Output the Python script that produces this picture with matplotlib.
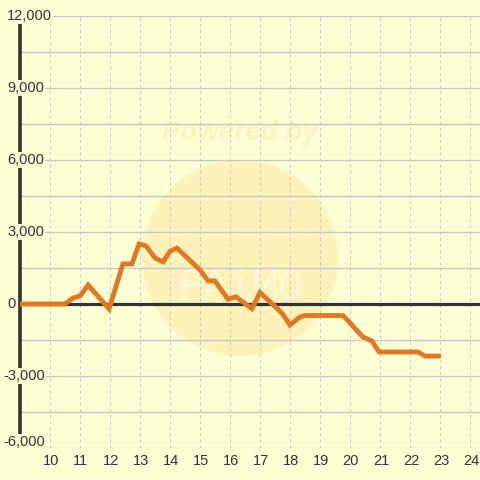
import matplotlib
matplotlib.use("Agg")
import matplotlib.pyplot as plt
from matplotlib.patches import Circle

# Data
x_vals = [9.0, 10.5, 10.77, 11.0, 11.27, 11.97, 12.43, 12.73, 12.97, 13.2, 13.5, 13.77,
          14.0, 14.23, 15.0, 15.27, 15.5, 15.93, 16.2, 16.73, 17.0, 17.73, 18.0, 18.33,
          18.5, 19.77, 20.43, 20.73, 20.97, 22.27, 22.5, 23.03]
y_vals = [0, 0, 250, 333, 790, -200, 1670, 1670, 2500, 2420, 1920, 1750,
          2200, 2330, 1420, 960, 960, 200, 300, -200, 480, -375, -875, -540,
          -480, -480, -1375, -1540, -2000, -2000, -2170, -2170]
y_ticks = [12000, 9000, 6000, 3000, 0, -3000, -6000]
y_tick_labels = ["12,000", "9,000", "6,000", "3,000", "0", "-3,000", "-6,000"]
x_ticks = list(range(10, 25))
x_tick_labels = [str(v) for v in x_ticks]

BG = "#FEFED4"
W, H = 480, 480
fig = plt.figure(figsize=(4.8, 4.8), dpi=100, facecolor=BG)
ax = fig.add_axes([20 / W, 32 / H, 460 / W, 432 / H], facecolor=BG)
ax.set_xlim(9, 9 + 460 / 30)
ax.set_ylim(-6000, 12000)

def fx(px):
    return (px - 20) / 460

def fy(py):
    return (448 - py) / 432

# watermark
wm = Circle((240 / W, 1 - 258 / H), 98 / W, transform=fig.transFigure,
            facecolor="#FCEFB2", edgecolor="none", alpha=0.75, zorder=0.5)
ax.add_artist(wm)
ax.text(fx(240), fy(133), "Powered by", transform=ax.transAxes, ha="center", va="center",
        fontsize=20, fontweight="bold", fontstyle="italic", color="#F9F3C2",
        family="Liberation Sans", zorder=0.6)
ax.text(fx(240), fy(287), "PAiMO", transform=ax.transAxes, ha="center", va="center",
        fontsize=30, color="#FDF7D4", family="DejaVu Sans Mono", zorder=0.6)

# grid
for yv in range(-6000, 12001, 1500):
    ax.axhline(yv, color="#C8C8C8", lw=1.0, zorder=1)
for xv in x_ticks:
    ax.axvline(xv, color="#C8C8C8", lw=0.8, ls=(0, (2.5, 3)), zorder=1)

for s in ax.spines.values():
    s.set_visible(False)
ax.set_xticks([])
ax.set_yticks([])

# zero line and y axis line
ax.axhline(0, color="#333333", lw=2.3, zorder=2)
ax.plot([9, 9], [-6000, 11667], color="#333333", lw=2.6, clip_on=False, zorder=2,
        solid_capstyle="butt")

# data line
ax.plot(x_vals, y_vals, color="#E07A22", lw=3.5, zorder=3, solid_joinstyle="miter",
        solid_capstyle="butt")

# y tick labels
ytr = ax.get_yaxis_transform()
for v, lab in zip(y_ticks, y_tick_labels):
    yy = v if v != -6000 else -5750
    ax.text(-13 / 460 if not lab.startswith("-") else -17 / 460, yy, lab,
            transform=ytr, ha="left", va="center", fontsize=10.5,
            family="Liberation Sans", color="#333333", zorder=4, clip_on=False,
            bbox=dict(facecolor=BG, edgecolor="none", pad=0.5))

# x tick labels
xtr = ax.get_xaxis_transform()
for v, lab in zip(x_ticks, x_tick_labels):
    ax.text(v + 0.03, -13 / 432, lab, transform=xtr, ha="center", va="center",
            fontsize=10.5, family="Liberation Sans", color="#333333", clip_on=False)

fig.savefig("out.png", dpi=100, facecolor=BG)
